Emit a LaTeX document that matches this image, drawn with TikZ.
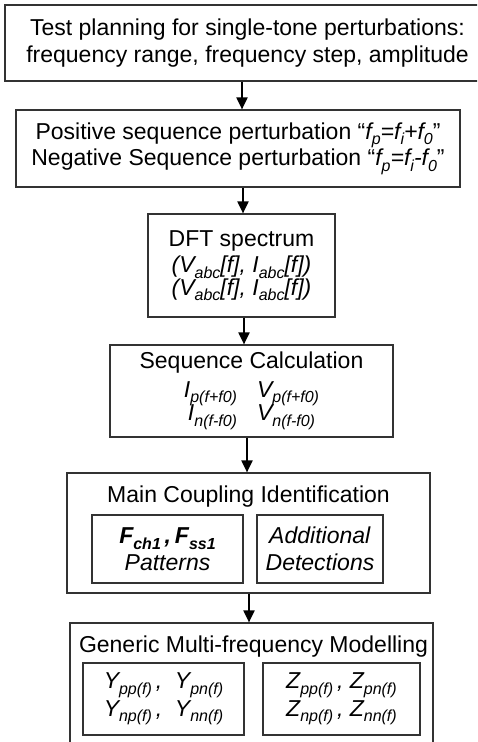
\documentclass[tikz,border=0pt]{standalone}
\usepackage{fontspec}
\setmainfont{Liberation Sans}
\usetikzlibrary{arrows.meta}
% lowered small index text
\newcommand\lo[1]{\raisebox{-0.45ex}{\fontsize{16}{16}\selectfont #1}}
\begin{document}
\begin{tikzpicture}[x=1pt,y=-1pt,
  box/.style={draw=black!80, line width=1.2pt, inner sep=0pt, align=center,
    font=\fontsize{23}{26.5}\selectfont},
  lbl/.style={inner sep=0pt, anchor=base, font=\fontsize{23}{26.5}\selectfont},
  arr/.style={line width=2pt, -{Triangle[length=12pt,width=11pt]}}]
\clip (0,0) rectangle (477,742);

% main flow
\node[box, minimum width=485, minimum height=76] (plan) at (247.5,43)
  {Test planning for single-tone perturbations:\\frequency range, frequency step, amplitude};
\node[box, minimum width=444, minimum height=77] (pert) at (238,148.5)
  {Positive sequence perturbation ``\textit{f\lo{p}=f\lo{i}+f\lo{0}}''\\
   Negative Sequence perturbation ``\textit{f\lo{p}=f\lo{i}-f\lo{0}}''};
\node[box, minimum width=187, minimum height=103] (dft) at (241.5,265.5)
  {DFT spectrum\\
   \textit{(V\lo{abc}[f], I\lo{abc}[f])}\\[-4pt]
   \textit{(V\lo{abc}[f], I\lo{abc}[f])}};
\node[box, minimum width=283, minimum height=92] (seq) at (251.5,391)
  {Sequence Calculation\\[2pt]
   \textit{I\lo{p(f+f0)}\hspace{20pt}V\lo{p(f+f0)}}\\[-3pt]
   \textit{I\lo{n(f-f0)}\hspace{20pt}V\lo{n(f-f0)}}};

% coupling identification
\node[box, minimum width=363, minimum height=120] (main) at (248.5,533) {};
\node[lbl] (mainT) at (248.5,502) {Main Coupling Identification};
\node[box, minimum width=151, minimum height=68] (pat) at (167.5,549)
  {\textbf{\textit{F\lo{ch1}\,,\,F\lo{ss1}}}\\\textit{Patterns}};
\node[box, minimum width=126, minimum height=68] (add) at (320,549)
  {\textit{Additional}\\\textit{Detections}};

% multi-frequency modelling
\node[box, minimum width=363, minimum height=138] (gen) at (251.5,692) {};
\node[lbl] (genT) at (253.5,652) {Generic Multi-frequency Modelling};
\node[box, minimum width=161, minimum height=72] (ym) at (163.5,699)
  {\textit{Y\lo{pp(f)}\,,\ \ Y\lo{pn(f)}}\\[1pt]\textit{Y\lo{np(f)}\,,\ \ Y\lo{nn(f)}}};
\node[box, minimum width=157, minimum height=72] (zm) at (341.5,699)
  {\textit{Z\lo{pp(f)}\,,\ Z\lo{pn(f)}}\\[1pt]\textit{Z\lo{np(f)}\,,\ Z\lo{nn(f)}}};

% arrow columns
\coordinate (c1) at (242,0);
\coordinate (c2) at (243,0);
\coordinate (c3) at (244,0);
\coordinate (c4) at (247,0);
\coordinate (c5) at (249,0);
\draw[arr] (plan.south -| c1) -- (pert.north -| c1);
\draw[arr] (pert.south -| c2) -- (dft.north -| c2);
\draw[arr] (dft.south -| c3) -- (seq.north -| c3);
\draw[arr] (seq.south -| c4) -- (main.north -| c4);
\draw[arr] (main.south -| c5) -- (gen.north -| c5);
\end{tikzpicture}
\end{document}
